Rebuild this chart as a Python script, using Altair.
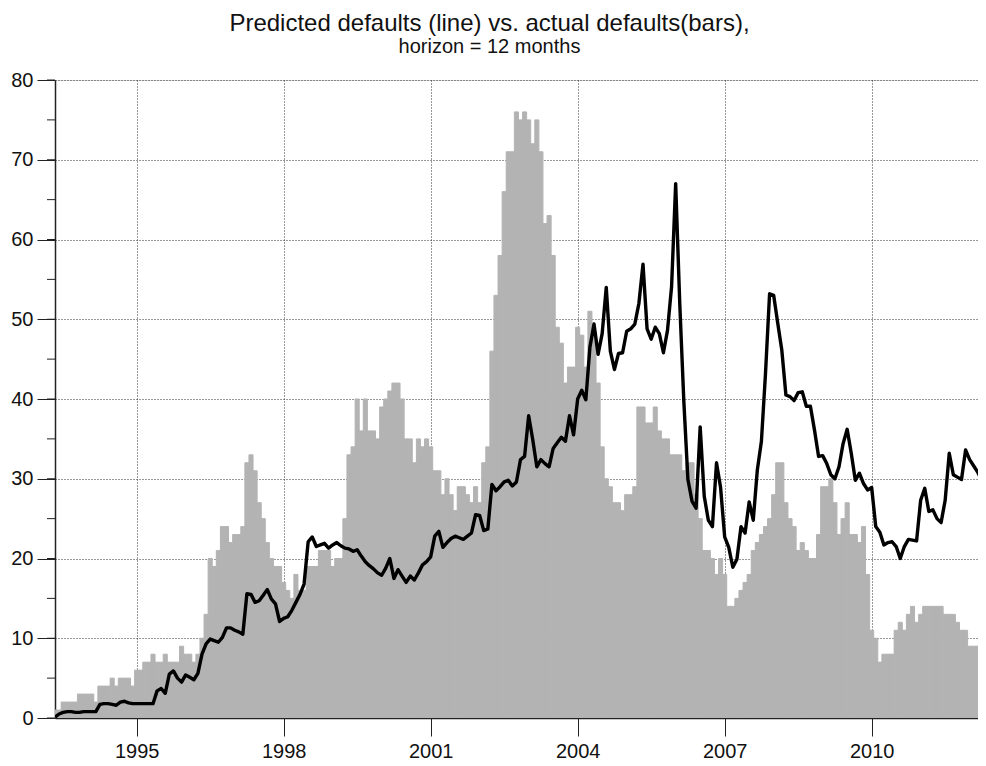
import altair as alt
import pandas as pd

# Monthly series starting May 1993
start_year = 1993
start_month = 5

actual = [
    1, 1, 2, 2, 2, 2, 3, 3, 3, 3,
    2, 4, 4, 4, 5, 4, 5, 5, 5, 4,
    6, 6, 7, 7, 8, 7, 7, 8, 7, 7,
    7, 9, 8, 8, 7, 8, 10, 13, 20, 19,
    21, 24, 24, 22, 23, 23, 24, 32, 33, 31,
    27, 25, 22, 20, 19, 19, 17, 16, 15, 18,
    16, 16, 19, 19, 19, 21, 21, 21, 19, 20,
    20, 25, 33, 34, 40, 36, 40, 36, 36, 35,
    39, 40, 41, 42, 42, 40, 35, 35, 32, 35,
    34, 35, 34, 31, 31, 28, 30, 28, 26, 29,
    29, 28, 27, 29, 27, 32, 34, 46, 53, 58,
    66, 71, 71, 76, 75, 76, 75, 72, 75, 71,
    62, 63, 58, 49, 47, 42, 44, 44, 49, 48,
    44, 51, 48, 42, 34, 30, 29, 27, 27, 26,
    28, 28, 29, 39, 39, 37, 37, 39, 36, 35,
    35, 33, 33, 33, 31, 32, 32, 28, 25, 21,
    21, 20, 18, 20, 18, 14, 14, 15, 16, 17,
    18, 21, 22, 23, 24, 25, 28, 32, 32, 27,
    25, 24, 21, 22, 21, 20, 20, 23, 29, 29,
    30, 27, 23, 25, 27, 23, 23, 22, 24, 18,
    11, 10, 7, 8, 8, 8, 11, 12, 11, 13,
    14, 12, 13, 14, 14, 14, 14, 14, 13, 13,
    13, 12, 11, 11, 9, 9, 9, 8, 7,
]

predicted = [
    0.1, 0.5, 0.7, 0.8, 0.8, 0.7, 0.7, 0.8, 0.8, 0.8,
    0.8, 1.7, 1.8, 1.8, 1.7, 1.6, 2.0, 2.1, 1.9, 1.8,
    1.8, 1.8, 1.8, 1.8, 1.8, 3.4, 3.7, 3.1, 5.5, 5.9,
    5.0, 4.5, 5.4, 5.1, 4.8, 5.6, 8.0, 9.3, 9.9, 9.7,
    9.5, 10.1, 11.3, 11.3, 11.0, 10.8, 10.5, 15.6, 15.5, 14.5,
    14.7, 15.4, 16.1, 14.9, 14.3, 12.1, 12.5, 12.7, 13.5, 14.5,
    15.5, 16.8, 22.1, 22.7, 21.5, 21.7, 21.9, 21.3, 21.7, 22.0,
    21.6, 21.3, 21.2, 20.9, 21.1, 20.3, 19.6, 19.1, 18.7, 18.2,
    17.9, 18.8, 20.0, 17.5, 18.6, 17.8, 17.0, 17.8, 17.3, 18.2,
    19.2, 19.6, 20.2, 22.8, 23.4, 21.4, 22.0, 22.5, 22.8, 22.6,
    22.4, 22.8, 23.2, 25.5, 25.4, 23.5, 23.7, 29.3, 28.5, 29.0,
    29.6, 29.8, 29.1, 29.6, 32.4, 32.8, 37.9, 34.9, 31.5, 32.4,
    31.9, 31.5, 33.8, 34.5, 35.2, 34.7, 37.9, 35.5, 40.0, 41.1,
    39.9, 46.5, 49.4, 45.6, 48.2, 54.0, 46.0, 43.7, 45.7, 45.8,
    48.5, 48.8, 49.4, 52.0, 56.9, 48.8, 47.5, 49.0, 48.2, 45.8,
    48.6, 54.1, 67.0, 52.0, 39.7, 29.9, 27.2, 26.3, 36.5, 27.8,
    24.8, 24.0, 32.0, 28.9, 22.7, 21.4, 18.9, 19.9, 24.0, 23.2,
    27.1, 24.8, 31.1, 34.7, 43.2, 53.2, 53.0, 49.5, 46.1, 40.5,
    40.3, 39.8, 40.8, 40.9, 39.1, 39.1, 36.1, 32.8, 32.9, 31.9,
    30.5, 30.0, 31.5, 34.4, 36.2, 33.2, 29.8, 30.7, 29.4, 28.6,
    28.9, 24.0, 23.3, 21.7, 22.0, 22.1, 21.5, 20.0, 21.5, 22.4,
    22.3, 22.2, 27.3, 28.8, 25.9, 26.1, 25.0, 24.5, 27.3, 33.2,
    30.5, 30.2, 29.9, 33.6, 32.4, 31.6, 30.8, 29.8, 30.5,
]

year_ticks = [1995, 1998, 2001, 2004, 2007, 2010]
y_ticks = [0, 10, 20, 30, 40, 50, 60, 70, 80]
y_minor = [0, 5, 10, 15, 20, 25, 30, 35, 40, 45, 50, 55, 60, 65, 70, 75, 80]

n = min(len(actual), len(predicted))
t = [start_year + (start_month - 1 + i) / 12.0 for i in range(n)]
half = 1.0 / 24.0
df = pd.DataFrame({
    "t": t,
    "t0": [v - half for v in t],
    "t1": [v + half for v in t],
    "actual": actual[:n],
    "predicted": predicted[:n],
})
df_minor = pd.DataFrame({"v": y_minor})

# plot area: same pixel scale as the reference, page allows 970px of svg
PLOT_W = 923
PLOT_H = 638
px_per_month = 931.0 / 228.0
x_end = t[0] + (PLOT_W / px_per_month) / 12.0

FONT = "Liberation Sans"
xscale = alt.Scale(domain=[t[0], x_end], nice=False, zero=False)
yscale = alt.Scale(domain=[0, 80], nice=False)

xaxis = alt.Axis(values=year_ticks, format="d", title=None, grid=True,
                 gridDash=[1, 2], gridColor="#333333", gridWidth=1,
                 tickSize=18, tickColor="#222222", tickWidth=1,
                 domainColor="#222222", domainWidth=1.5,
                 labelFont=FONT, labelFontSize=20, labelColor="#111111",
                 labelPadding=5)
yaxis = alt.Axis(values=y_ticks, title=None, grid=True,
                 gridDash=[1, 2], gridColor="#333333", gridWidth=1,
                 tickSize=18, tickColor="#222222", tickWidth=1,
                 domainColor="#222222", domainWidth=1.5,
                 labelFont=FONT, labelFontSize=20, labelColor="#111111",
                 labelPadding=4)

bars = alt.Chart(df).mark_rect(color="#b3b3b3", stroke="#b3b3b3",
                               strokeWidth=1, clip=True).encode(
    x=alt.X("t0:Q", scale=xscale, axis=xaxis),
    x2="t1:Q",
    y=alt.Y("actual:Q", scale=yscale, axis=yaxis),
    y2=alt.datum(0),
)

line = alt.Chart(df).mark_line(color="black", strokeWidth=3.4, clip=True,
                               strokeJoin="round").encode(
    x=alt.X("t:Q", scale=xscale),
    y=alt.Y("predicted:Q", scale=yscale),
)

minor = alt.Chart(df_minor).mark_rule(color="#222222", strokeWidth=1).encode(
    y=alt.Y("v:Q", scale=yscale),
    x=alt.value(-8),
    x2=alt.value(0),
)

chart = alt.layer(bars, line, minor).properties(
    width=PLOT_W,
    height=PLOT_H,
    title=alt.TitleParams(
        "Predicted defaults (line) vs. actual defaults(bars),",
        subtitle="horizon = 12 months",
        font=FONT, fontSize=24, fontWeight="normal", color="#111111",
        subtitleFont=FONT, subtitleFontSize=20, subtitleColor="#111111",
        subtitlePadding=1,
        anchor="middle", dx=-27, offset=13,
    ),
    autosize=alt.AutoSizeParams(type="none"),
    padding={"left": 47, "top": 72, "right": 0, "bottom": 48},
).configure_view(stroke=None).configure(background="white")

chart.save("out.html", embed_options={"renderer": "svg", "actions": False})
